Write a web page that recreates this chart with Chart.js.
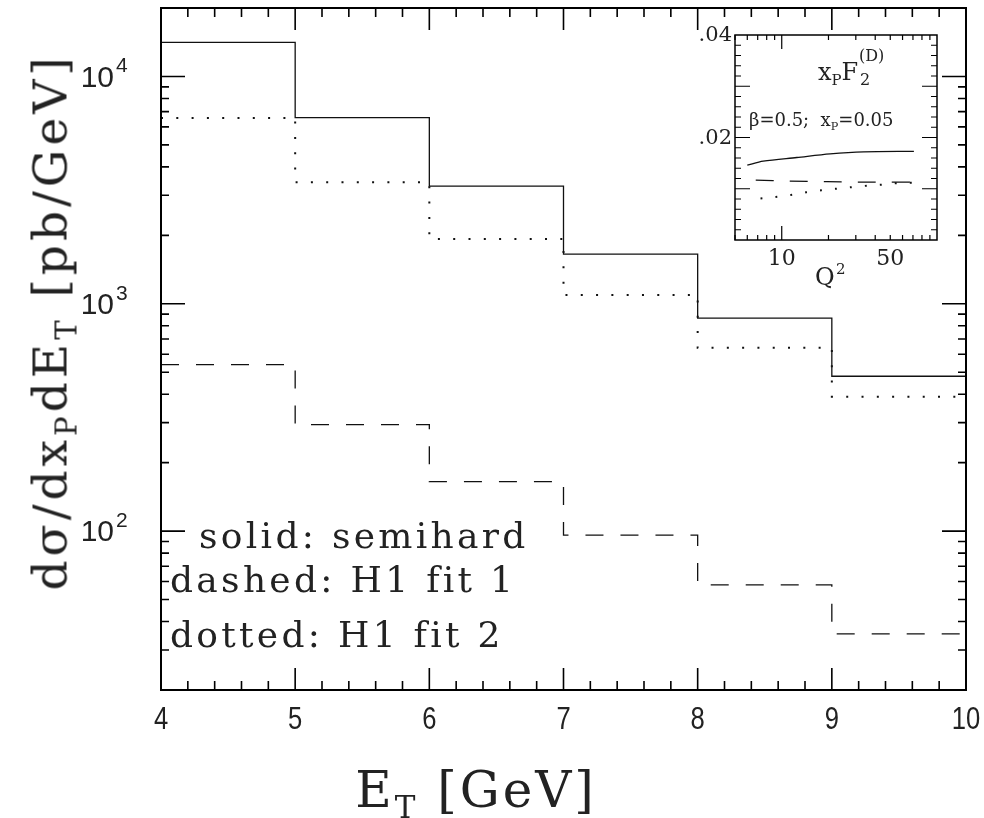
<!DOCTYPE html>
<html>
<head>
<meta charset="utf-8">
<script src="https://cdn.jsdelivr.net/npm/chart.js@4.4.1/dist/chart.umd.min.js"></script>
<style>
  body { margin: 0; background: #fff; }
  #wrap { position: relative; width: 984px; height: 818px; overflow: hidden; }
  canvas { position: absolute; }
  .lbl { position: absolute; font-family: "DejaVu Serif", serif; color: #222; white-space: nowrap; line-height: 1; }
  .sb { font-size: 0.62em; position: relative; top: 0.35em; }
</style>
</head>
<body>
<div id="wrap">
  <canvas id="main" width="984" height="818" style="left:0;top:0"></canvas>
  <canvas id="inset" width="257" height="270" style="left:690px;top:25px"></canvas>

  <div class="lbl" style="left:50px;top:322px;font-size:47px;letter-spacing:4px;transform:translate(-50%,-50%) rotate(-90deg);">d&sigma;/dx<span class="sb">P</span>dE<span class="sb">T</span> [pb/GeV]</div>
  <div class="lbl" style="left:476px;top:790px;font-size:50px;letter-spacing:3px;transform:translate(-50%,-50%);">E<span class="sb">T</span> [GeV]</div>

  <div class="lbl" style="left:199px;top:518px;font-size:36px;letter-spacing:3.3px;">solid: semihard</div>
  <div class="lbl" style="left:170px;top:562px;font-size:36px;letter-spacing:3.3px;">dashed: H1 fit 1</div>
  <div class="lbl" style="left:170px;top:617px;font-size:36px;letter-spacing:3.3px;">dotted: H1 fit 2</div>

  <div class="lbl" style="left:818px;top:60px;font-size:24px;">x<span class="sb">P</span>F</div>
  <div class="lbl" style="left:859px;top:48px;font-size:16px;">(D)</div>
  <div class="lbl" style="left:860px;top:72px;font-size:16px;">2</div>
  <div class="lbl" style="left:749px;top:111px;font-size:18px;">&beta;=0.5;&nbsp; x<span class="sb">P</span>=0.05</div>
  <div class="lbl" style="left:815px;top:265px;font-size:24px;">Q</div>
  <div class="lbl" style="left:836px;top:262px;font-size:15px;">2</div>
</div>

<script>
// main plot: E_T bins and cross sections (pb/GeV)
const binEdges = [4, 5, 6, 7, 8, 9, 10];
const semihard = [14130, 6590, 3295, 1655, 865, 480];
const h1Fit1 = [540, 294, 165, 96, 58, 35.3];
const h1Fit2 = [6560, 3420, 1928, 1093, 640, 390];
const xTickLabels = [4, 5, 6, 7, 8, 9, 10];
const yDecades = [100, 1000, 10000];

// inset: x_P F_2^(D) vs Q^2
const insetSolidQ2 = [6, 7.6, 12.5, 20.5, 33.7, 71];
const insetSolid = [0.0146, 0.0154, 0.0161, 0.0168, 0.0172, 0.0173];
const insetDashedQ2 = [6.8, 11.3, 19.5, 33.7, 71];
const insetDashed = [0.0117, 0.0115, 0.0114, 0.0113, 0.0113];
const insetDottedQ2 = [7.3, 9.1, 11.4, 14.3, 17.9, 22.4, 28, 35.5, 44.3, 55.5, 71];
const insetDotted = [0.0081, 0.0084, 0.0088, 0.0093, 0.0097, 0.0100, 0.0103, 0.0106, 0.0108, 0.0111, 0.0112];
const insetXLabels = [10, 50];
const insetYLabels = [0.02, 0.04];

// histogram: one point per bin edge (left edge of each bin, last value repeated at the right edge)
const steps = (vals) => binEdges.map((x, i) => ({ x: x, y: vals[Math.min(i, vals.length - 1)] }));
const pts = (xs, ys) => xs.map((x, i) => ({ x: x, y: ys[i] }));

// ticks drawn inside the frame on all four sides
const frame = {
  id: "frame",
  beforeDatasetsDraw(chart, args, o) {
    const { ctx, chartArea: a } = chart;
    if (o.fillBg) {
      ctx.save();
      ctx.fillStyle = "#fff";
      ctx.fillRect(a.left, a.top, a.right - a.left, a.bottom - a.top);
      ctx.restore();
    }
  },
  afterDatasetsDraw(chart, args, o) {
    const { ctx, chartArea: a, scales: { x, y } } = chart;
    ctx.save();
    ctx.strokeStyle = "#000";
    ctx.lineWidth = o.lw;
    ctx.strokeRect(a.left, a.top, a.right - a.left, a.bottom - a.top);
    ctx.lineWidth = o.tickLw;
    ctx.beginPath();
    o.xTicks.forEach(([v, len]) => {
      const px = x.getPixelForValue(v);
      ctx.moveTo(px, a.bottom); ctx.lineTo(px, a.bottom - len);
      ctx.moveTo(px, a.top); ctx.lineTo(px, a.top + len);
    });
    o.yTicks.forEach(([v, len]) => {
      const py = y.getPixelForValue(v);
      ctx.moveTo(a.left, py); ctx.lineTo(a.left + len, py);
      ctx.moveTo(a.right, py); ctx.lineTo(a.right - len, py);
    });
    ctx.stroke();

    ctx.fillStyle = "#222";
    ctx.font = o.xFont;
    ctx.textAlign = "center";
    ctx.textBaseline = "middle";
    o.xLabels.forEach(([v, t]) => {
      ctx.save();
      ctx.translate(x.getPixelForValue(v), a.bottom + o.xOff);
      ctx.scale(o.xSqueeze || 1, 1);
      ctx.fillText(t, 0, 0);
      ctx.restore();
    });
    o.yLabels.forEach(([v, t, e]) => {
      const py = y.getPixelForValue(v);
      ctx.font = o.yFont;
      ctx.textAlign = "right";
      ctx.fillText(t, a.left + o.yOff, py + o.yDy);
      if (e) {
        ctx.font = o.expFont;
        ctx.textAlign = "left";
        ctx.fillText(e, a.left + o.yOff + 2, py - 10);
      }
    });
    ctx.restore();
  }
};

// tick positions
const mainXTicks = [];
for (let v = 4; v <= 10.001; v += 0.2) {
  const r = Math.round(v * 10) / 10;
  mainXTicks.push([r, Number.isInteger(r) ? 22 : 9]);
}
const mainYTicks = [];
[10, 100, 1000, 10000].forEach((d) => {
  for (let m = 1; m <= 9; m++) {
    const v = d * m;
    if (v >= 20 && v <= 20000) mainYTicks.push([v, m === 1 ? 24 : 8]);
  }
});

new Chart(document.getElementById("main"), {
  type: "line",
  data: {
    datasets: [
      { label: "solid: semihard", data: steps(semihard), borderColor: "#111", borderWidth: 1.3 },
      { label: "dashed: H1 fit 1", data: steps(h1Fit1), borderColor: "#111", borderWidth: 1.3, borderDash: [18, 17] },
      { label: "dotted: H1 fit 2", data: steps(h1Fit2), borderColor: "#111", borderWidth: 2, borderDash: [2, 13.3] }
    ]
  },
  options: {
    responsive: false,
    animation: false,
    layout: { padding: { left: 161, top: 8, right: 18, bottom: 128 } },
    elements: { line: { stepped: "before", fill: false }, point: { radius: 0 } },
    plugins: {
      legend: { display: false },
      tooltip: { enabled: false },
      frame: {
        lw: 2, tickLw: 1.6,
        xTicks: mainXTicks, yTicks: mainYTicks,
        xLabels: xTickLabels.map((v) => [v, String(v)]),
        yLabels: yDecades.map((v) => [v, "10", String(Math.round(Math.log10(v)))]),
        xFont: "32px 'Liberation Sans', sans-serif", xOff: 30, xSqueeze: 0.8,
        yFont: "30px 'Liberation Sans', sans-serif", yOff: -47, yDy: 2,
        expFont: "21px 'Liberation Sans', sans-serif"
      }
    },
    scales: {
      x: { type: "linear", min: 4, max: 10, display: false },
      y: { type: "logarithmic", min: 20, max: 20000, display: false }
    }
  },
  plugins: [frame]
});

const insetXTicks = [];
[1, 10].forEach((d) => {
  for (let m = 1; m <= 9; m++) {
    const v = d * m;
    if (v >= 5 && v <= 100) insetXTicks.push([v, m === 1 ? 14 : 5]);
  }
});
const insetYTicks = [];
for (let i = 1; i < 20; i++) insetYTicks.push([i * 0.002, i % 5 === 0 ? 15 : 6]);

new Chart(document.getElementById("inset"), {
  type: "line",
  data: {
    datasets: [
      { data: pts(insetSolidQ2, insetSolid), borderColor: "#111", borderWidth: 1.3 },
      { data: pts(insetDashedQ2, insetDashed), borderColor: "#111", borderWidth: 1.3, borderDash: [18, 16] },
      { data: pts(insetDottedQ2, insetDotted), borderColor: "#111", borderWidth: 2, borderDash: [2, 13] }
    ]
  },
  options: {
    responsive: false,
    animation: false,
    layout: { padding: { left: 45, top: 10, right: 10, bottom: 55 } },
    elements: { line: { fill: false, tension: 0.3 }, point: { radius: 0 } },
    plugins: {
      legend: { display: false },
      tooltip: { enabled: false },
      frame: {
        fillBg: true, lw: 1.5, tickLw: 1.2,
        xTicks: insetXTicks, yTicks: insetYTicks,
        xLabels: insetXLabels.map((v) => [v, String(v)]),
        yLabels: insetYLabels.map((v) => [v, "." + String(Math.round(v * 100)).padStart(2, "0")]),
        xFont: "22px 'DejaVu Serif', serif", xOff: 19,
        yFont: "21px 'DejaVu Serif', serif", yOff: -3, yDy: 1,
        expFont: "14px 'DejaVu Serif', serif"
      }
    },
    scales: {
      x: { type: "logarithmic", min: 5, max: 100, display: false },
      y: { type: "linear", min: 0, max: 0.04, display: false }
    }
  },
  plugins: [frame]
});
</script>
</body>
</html>
